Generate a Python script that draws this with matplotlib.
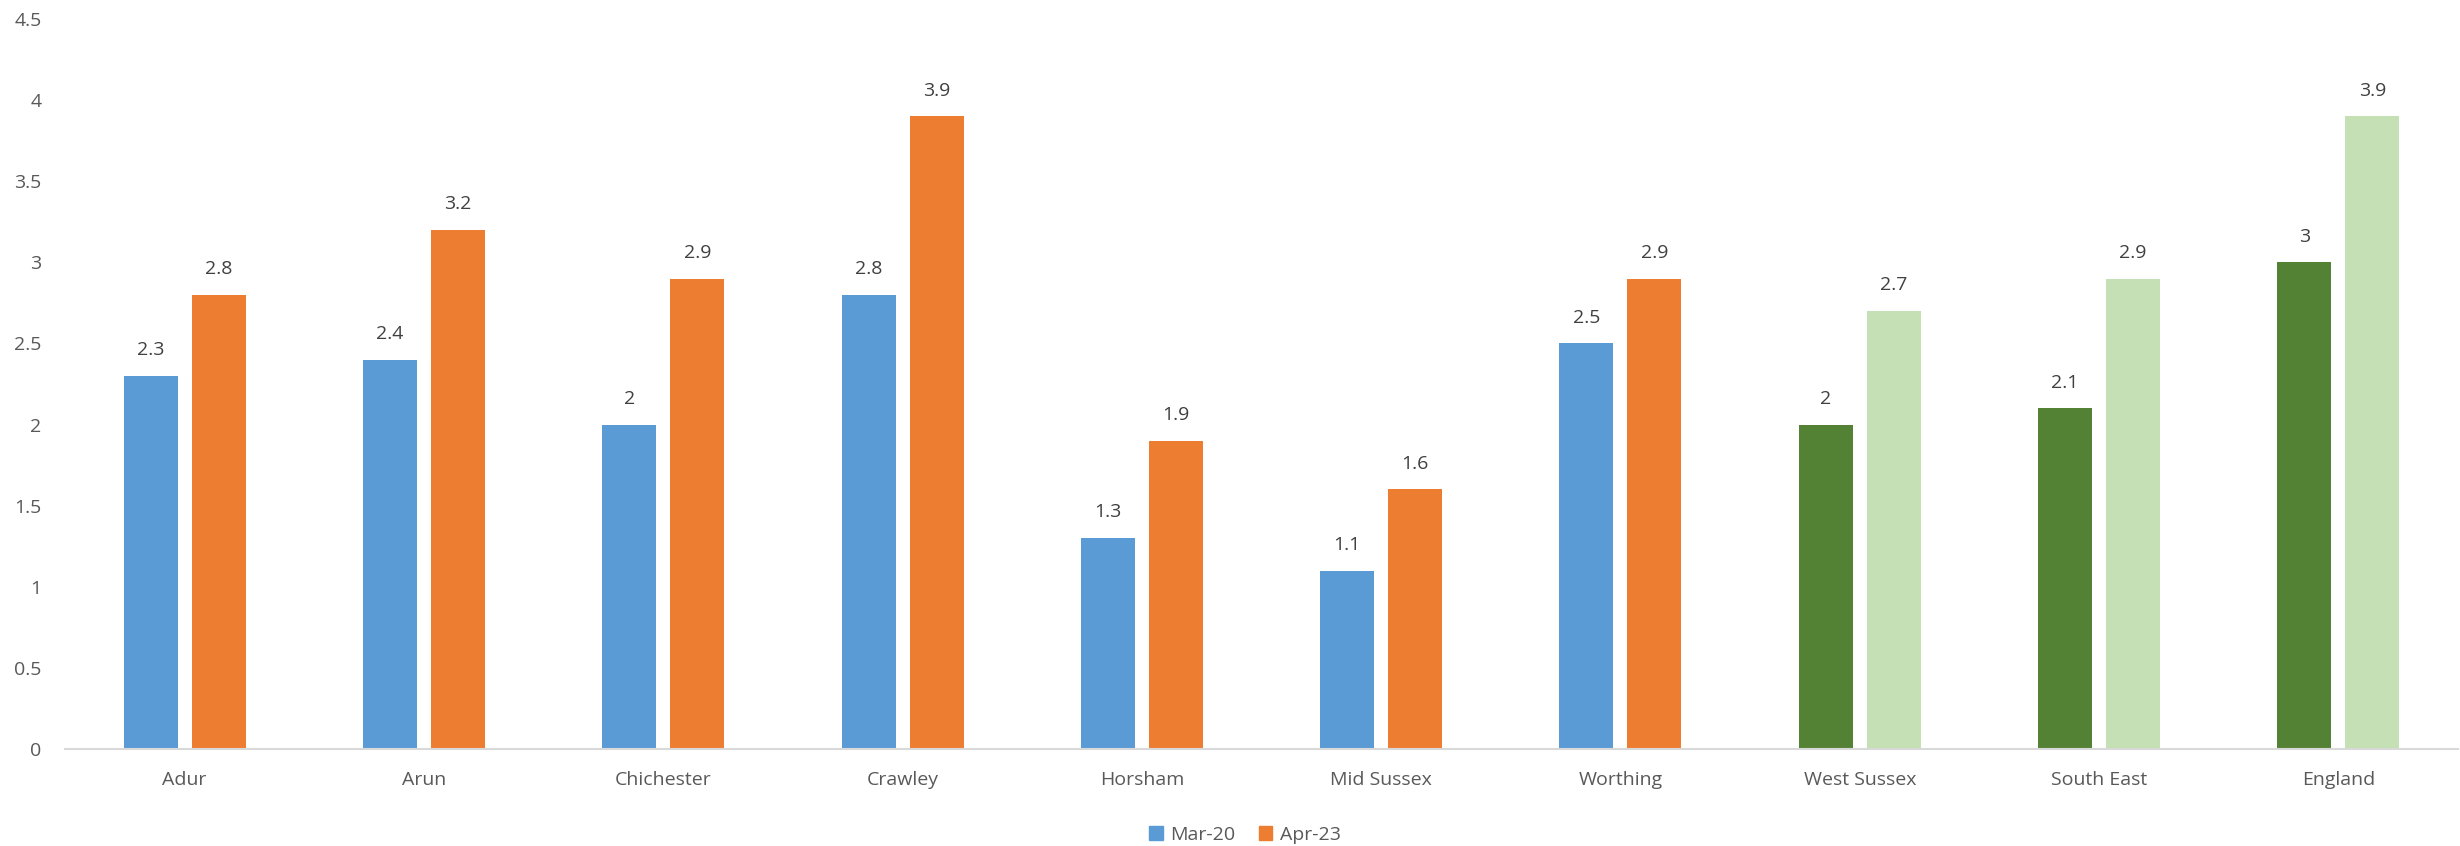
import matplotlib
matplotlib.use("Agg")
import matplotlib.pyplot as plt
import numpy as np
from matplotlib.patches import Patch

categories = ["Adur", "Arun", "Chichester", "Crawley", "Horsham", "Mid Sussex",
              "Worthing", "West Sussex", "South East", "England"]
mar20 = [2.3, 2.4, 2.0, 2.8, 1.3, 1.1, 2.5, 2.0, 2.1, 3.0]
apr23 = [2.8, 3.2, 2.9, 3.9, 1.9, 1.6, 2.9, 2.7, 2.9, 3.9]
series_names = ["Mar-20", "Apr-23"]
y_ticks = [0, 0.5, 1, 1.5, 2, 2.5, 3, 3.5, 4, 4.5]

plt.rcParams['font.family'] = ['Open Sans', 'DejaVu Sans']

blue, orange = "#5B9BD5", "#ED7D31"
dgreen, lgreen = "#548235", "#C5E0B4"
n_local = 7
c1 = [blue] * n_local + [dgreen] * (len(categories) - n_local)
c2 = [orange] * n_local + [lgreen] * (len(categories) - n_local)

fig = plt.figure(figsize=(24.6, 8.46), dpi=100)
ax = fig.add_axes([65 / 2460, 1 - 749 / 846, (2458 - 65) / 2460, (749 - 19) / 846])

x = np.arange(len(categories))
w = 0.2257
off = 0.142
b1 = ax.bar(x - off, mar20, w, color=c1, zorder=2)
b2 = ax.bar(x + off, apr23, w, color=c2, zorder=2)

fmt = lambda v: f"{v:g}"
ax.bar_label(b1, labels=[fmt(v) for v in mar20], padding=12, fontsize=14, color="#404040")
ax.bar_label(b2, labels=[fmt(v) for v in apr23], padding=12, fontsize=14, color="#404040")

ax.set_xlim(-0.5, len(categories) - 0.5)
ax.set_ylim(0, 4.5)
ax.set_yticks(y_ticks)
ax.set_yticklabels([fmt(v) for v in y_ticks])
ax.set_xticks(x)
ax.set_xticklabels(categories)
ax.tick_params(axis="x", length=0, pad=16, labelsize=14, labelcolor="#595959")
ax.tick_params(axis="y", length=0, pad=17, labelsize=14, labelcolor="#595959")
for s in ["top", "right", "left"]:
    ax.spines[s].set_visible(False)
ax.spines["bottom"].set_color("#D9D9D9")
ax.spines["bottom"].set_linewidth(1.5)
ax.spines["bottom"].set_zorder(3)

handles = [Patch(color=blue, label=series_names[0]), Patch(color=orange, label=series_names[1])]
fig.legend(handles=handles, loc="center", bbox_to_anchor=(1245 / 2460, 1 - 835 / 846),
           ncol=2, frameon=False, fontsize=14, labelcolor="#595959",
           handlelength=0.7, handleheight=0.7, handletextpad=0.4, columnspacing=1.2)

fig.savefig("out.png", dpi=100)
